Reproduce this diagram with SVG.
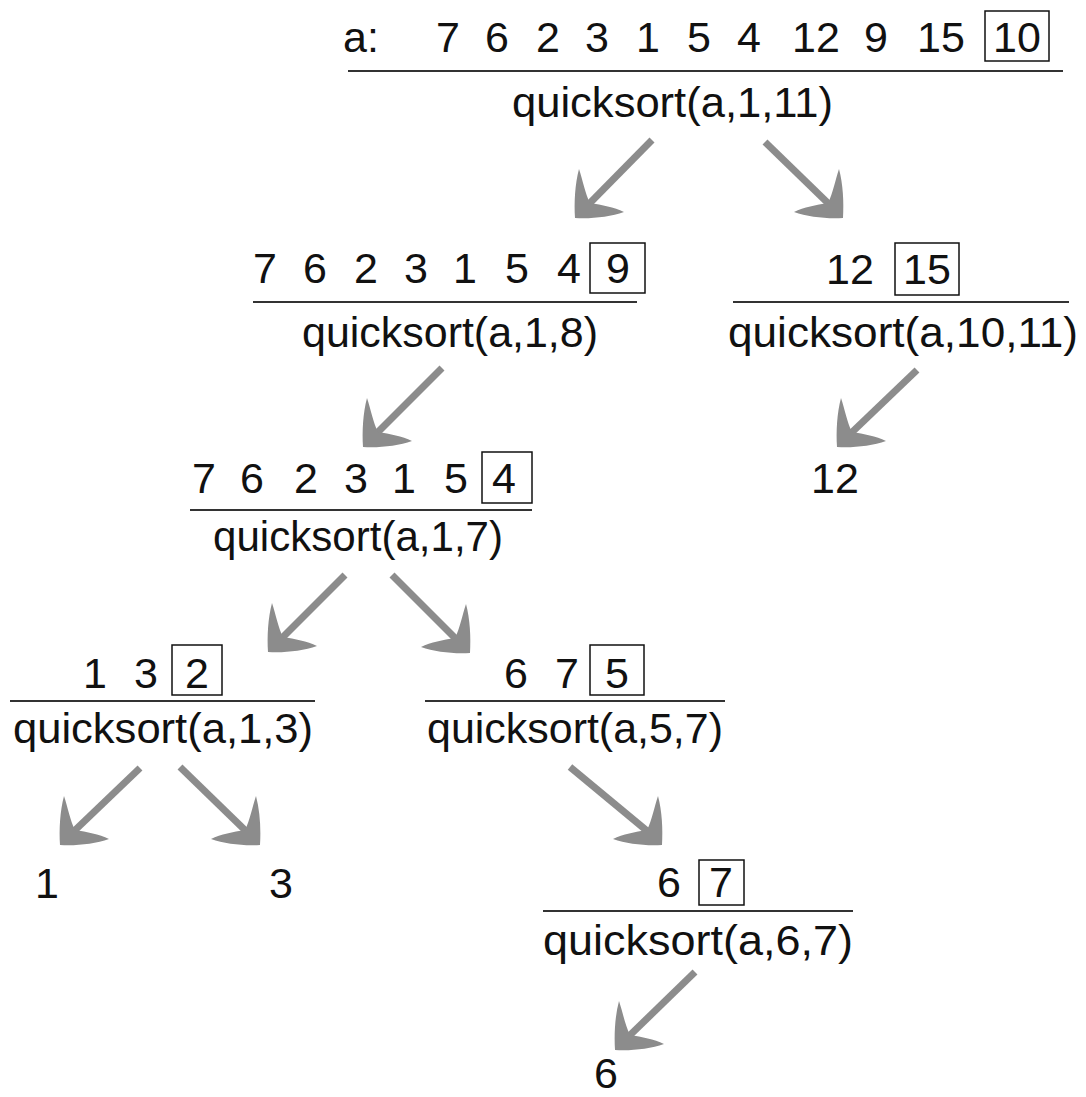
<svg xmlns="http://www.w3.org/2000/svg" xmlns:xlink="http://www.w3.org/1999/xlink" width="1086" height="1097" viewBox="0 0 1086 1097">
<style>
text{font-family:"Liberation Sans","DejaVu Sans",sans-serif;font-size:43px;fill:#111;}
.m{text-anchor:middle;}
.rule{stroke:#333;stroke-width:2;}
.box{fill:none;stroke:#111;stroke-width:1.5;}
.shaft{stroke:#8c8c8c;stroke-width:7;fill:none;}
.head{fill:#8c8c8c;}
</style>
<defs>
<path id="headL" class="head" d="M0,0 C-1,-16 0,-34 4,-49 C8,-37 10,-25 15,-15 C27,-13 39,-11 49,-6 C35,-1 16,1 0,0 Z"/>
</defs>
<rect width="1086" height="1097" fill="#fff"/>

<g id="connectors">
<line class="shaft" x1="652" y1="140" x2="585" y2="208"/>
<use href="#headL" xlink:href="#headL" transform="translate(575,218)"/>
<line class="shaft" x1="765" y1="142" x2="833" y2="208"/>
<use href="#headL" xlink:href="#headL" transform="translate(843,218) scale(-1,1)"/>
<line class="shaft" x1="442" y1="368" x2="373" y2="437"/>
<use href="#headL" xlink:href="#headL" transform="translate(363,447)"/>
<line class="shaft" x1="917" y1="370" x2="847" y2="437"/>
<use href="#headL" xlink:href="#headL" transform="translate(837,447)"/>
<line class="shaft" x1="345" y1="575" x2="278" y2="642"/>
<use href="#headL" xlink:href="#headL" transform="translate(268,652)"/>
<line class="shaft" x1="392" y1="575" x2="460" y2="643"/>
<use href="#headL" xlink:href="#headL" transform="translate(470,653) scale(-1,1)"/>
<line class="shaft" x1="140" y1="768" x2="70" y2="835"/>
<use href="#headL" xlink:href="#headL" transform="translate(60,845)"/>
<line class="shaft" x1="180" y1="767" x2="250" y2="835"/>
<use href="#headL" xlink:href="#headL" transform="translate(260,845) scale(-1,1)"/>
<line class="shaft" x1="570" y1="767" x2="652" y2="835"/>
<use href="#headL" xlink:href="#headL" transform="translate(662,845) scale(-1,1)"/>
<line class="shaft" x1="695" y1="972" x2="625" y2="1040"/>
<use href="#headL" xlink:href="#headL" transform="translate(615,1050)"/>
</g>

<g id="node-a">
<text x="343" y="52">a:</text>
<text class="m" x="448" y="52">7</text>
<text class="m" x="497" y="52">6</text>
<text class="m" x="548" y="52">2</text>
<text class="m" x="597" y="52">3</text>
<text class="m" x="648" y="52">1</text>
<text class="m" x="699" y="52">5</text>
<text class="m" x="749" y="52">4</text>
<text class="m" x="816" y="52">12</text>
<text class="m" x="876" y="52">9</text>
<text class="m" x="941" y="52">15</text>
<rect class="box" x="985" y="11" width="64" height="50"/>
<text class="m" x="1017" y="52">10</text>
<line class="rule" x1="348" y1="71" x2="1063" y2="71"/>
<text x="512" y="117" textLength="321" lengthAdjust="spacingAndGlyphs">quicksort(a,1,11)</text>
</g>

<g id="node-b">
<text class="m" x="265" y="283">7</text>
<text class="m" x="315" y="283">6</text>
<text class="m" x="366" y="283">2</text>
<text class="m" x="416" y="283">3</text>
<text class="m" x="465" y="283">1</text>
<text class="m" x="517" y="283">5</text>
<text class="m" x="569" y="283">4</text>
<rect class="box" x="590" y="243" width="55" height="50"/>
<text class="m" x="618" y="283">9</text>
<line class="rule" x1="253" y1="302" x2="637" y2="302"/>
<text x="302" y="347" textLength="296" lengthAdjust="spacingAndGlyphs">quicksort(a,1,8)</text>
</g>

<g id="node-c">
<text class="m" x="850" y="284">12</text>
<rect class="box" x="895" y="243" width="64" height="52"/>
<text class="m" x="927" y="284">15</text>
<line class="rule" x1="733" y1="302" x2="1069" y2="302"/>
<text x="728" y="347" textLength="350" lengthAdjust="spacingAndGlyphs">quicksort(a,10,11)</text>
</g>

<g id="leaf-12">
<text class="m" x="835" y="493">12</text>
</g>

<g id="node-d">
<text class="m" x="204" y="493">7</text>
<text class="m" x="252" y="493">6</text>
<text class="m" x="306" y="493">2</text>
<text class="m" x="356" y="493">3</text>
<text class="m" x="404" y="493">1</text>
<text class="m" x="456" y="493">5</text>
<rect class="box" x="482" y="452" width="50" height="51"/>
<text class="m" x="504" y="493">4</text>
<line class="rule" x1="190" y1="510" x2="532" y2="510"/>
<text x="213" y="551" textLength="290" lengthAdjust="spacingAndGlyphs">quicksort(a,1,7)</text>
</g>

<g id="node-e">
<text class="m" x="95" y="688">1</text>
<text class="m" x="146" y="688">3</text>
<rect class="box" x="172" y="645" width="50" height="50"/>
<text class="m" x="197" y="688">2</text>
<line class="rule" x1="10" y1="701" x2="315" y2="701"/>
<text x="13" y="743" textLength="300" lengthAdjust="spacingAndGlyphs">quicksort(a,1,3)</text>
</g>

<g id="node-f">
<text class="m" x="516" y="688">6</text>
<text class="m" x="567" y="688">7</text>
<rect class="box" x="590" y="645" width="54" height="50"/>
<text class="m" x="617" y="688">5</text>
<line class="rule" x1="425" y1="701" x2="725" y2="701"/>
<text x="427" y="743" textLength="296" lengthAdjust="spacingAndGlyphs">quicksort(a,5,7)</text>
</g>

<g id="leaf-1"><text class="m" x="47" y="898">1</text></g>
<g id="leaf-3"><text class="m" x="281" y="898">3</text></g>

<g id="node-g">
<text class="m" x="669" y="897">6</text>
<rect class="box" x="699" y="860" width="45" height="45"/>
<text class="m" x="721" y="897">7</text>
<line class="rule" x1="543" y1="911" x2="853" y2="911"/>
<text x="543" y="955" textLength="310" lengthAdjust="spacingAndGlyphs">quicksort(a,6,7)</text>
</g>

<g id="leaf-6"><text class="m" x="606" y="1088">6</text></g>
</svg>
